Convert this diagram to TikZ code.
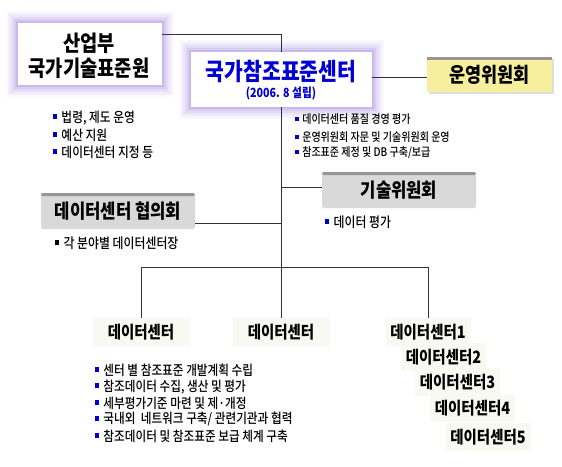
\documentclass[tikz,border=0pt]{standalone}
\usepackage{fontspec}
\usepackage{xcolor}
\setmainfont{Noto Sans CJK KR}[FakeStretch=0.85]
\newfontfamily\medfont{Noto Sans CJK KR Medium}[FakeStretch=0.85]
\usetikzlibrary{positioning,shadows}

\definecolor{glow}{RGB}{170,145,225}
\definecolor{kblue}{RGB}{0,0,210}
\definecolor{ylw}{RGB}{246,240,158}
\definecolor{gbox}{RGB}{217,217,217}
\definecolor{gtop}{RGB}{150,150,150}
\definecolor{pale}{RGB}{249,249,244}

\newcommand{\bb}{\textcolor{kblue}{\rule[0.22em]{0.3em}{0.36em}}\hspace{0.3em}}
\newcommand{\kb}{\textcolor{black}{\rule[0.22em]{0.3em}{0.36em}}\hspace{0.3em}}

\tikzset{
  glowbox/.style={fill=white, inner sep=0,
    preaction={draw=glow, line width=24pt, opacity=0.06, rounded corners=12pt},
    preaction={draw=glow, line width=20pt, opacity=0.08, rounded corners=10pt},
    preaction={draw=glow, line width=16pt, opacity=0.10, rounded corners=8pt},
    preaction={draw=glow, line width=12pt, opacity=0.14, rounded corners=6pt},
    preaction={draw=glow, line width=8pt, opacity=0.2, rounded corners=4pt},
    preaction={draw=glow, line width=4pt, opacity=0.3, rounded corners=2pt}},
  graybox/.style={fill=gbox, inner sep=0, rounded corners=2pt,
    minimum width=154, minimum height=36, font=\fontsize{19.6}{21}\selectfont\bfseries,
    path picture={\fill[gtop] (path picture bounding box.north west)
      rectangle ([yshift=-3pt]path picture bounding box.north east);}},
  yellowbox/.style={fill=ylw, inner sep=0,
    drop shadow={shadow xshift=2pt, shadow yshift=-2pt, opacity=0.25},
    path picture={\fill[gtop] (path picture bounding box.north west)
      rectangle ([yshift=-2.5pt]path picture bounding box.north east);}},
  ttl/.style={inner sep=0, font=\fontsize{#1}{#1}\selectfont\bfseries},
  lst/.style={anchor=west, inner sep=0, font=\fontsize{#1}{15}\medfont},
  dcbox/.style={fill=pale, inner sep=0, minimum height=28, font=\fontsize{17}{19}\selectfont\bfseries},
  link/.style={draw=black!80, line width=0.9pt}
}

\begin{document}
\begin{tikzpicture}[x=1pt,y=-1pt]
\useasboundingbox (0,0) rectangle (562,466);

% top boxes
\node[glowbox, minimum width=144, minimum height=62] (mote) at (90,54) {};
\node[ttl=22] (moteA) at (89,43) {산업부};
\node[ttl=22] (moteB) at (89,68) {국가기술표준원};

\node[glowbox, minimum width=181, minimum height=55] (kric) at (281,79.5) {};
\node[ttl=24, text=kblue] (kricA) at (281,72) {국가참조표준센터};
\node[ttl=12.6, text=kblue] (kricB) at (281,93.5) {(2006. 8 설립)};

\node[yellowbox, minimum width=125, minimum height=35, ttl=20.5] (ops) at (489.5,74.5) {운영위원회};

\node[graybox] (tech) at (399,190) {기술위원회};
\node[graybox] (council) at (118,211) {데이터센터 협의회};

% bullet lists
\node[lst=13.8] (law1) at (53,118) {\bb 법령, 제도 운영};
\node[lst=13.8] (law2) at (53,135) {\bb 예산 지원};
\node[lst=13.8] (law3) at (53,152) {\bb 데이터센터 지정 등};

\node[lst=11.8] (role1) at (295,119) {\bb 데이터센터 품질 경영 평가};
\node[lst=11.8] (role2) at (295,137) {\bb 운영위원회 자문 및 기술위원회 운영};
\node[lst=11.8] (role3) at (295,153) {\bb 참조표준 제정 및 DB 구축/보급};

\node[lst=14] (eval1) at (325,222) {\bb 데이터 평가};
\node[lst=14] (head1) at (55,243) {\kb 각 분야별 데이터센터장};

\node[lst=13.7] (task1) at (95,370) {\bb 센터 별 참조표준 개발계획 수립};
\node[lst=13.7] (task2) at (95,387) {\bb 참조데이터 수집, 생산 및 평가};
\node[lst=13.7] (task3) at (95,403) {\bb 세부평가기준 마련 및 제·개정};
\node[lst=13.7] (task4) at (95,419) {\bb 국내외~~네트워크 구축/ 관련기관과 협력};
\node[lst=13.7] (task5) at (95,436) {\bb 참조데이터 및 참조표준 보급 체계 구축};

% data centers
\node[dcbox, minimum width=97] (dcA) at (141,332) {데이터센터};
\node[dcbox, minimum width=97] (dcB) at (281,332) {데이터센터};
\node[dcbox, minimum width=85] (dc1) at (428,332) {데이터센터1};
\node[dcbox, minimum width=85] (dc2) at (443.5,357) {데이터센터2};
\node[dcbox, minimum width=85] (dc3) at (457.5,382) {데이터센터3};
\node[dcbox, minimum width=85] (dc4) at (472.5,408) {데이터센터4};
\node[dcbox, minimum width=85] (dc5) at (488,437) {데이터센터5};

% connectors
\coordinate (hub) at (281,267);
\draw[link] ([yshift=-12pt]mote.north east) -| (kric.north);
\draw[link] ([yshift=2pt]kric.east) -- ([yshift=2pt]kric.east -| ops.west);
\draw[link] (kric.south) -- (dcB.north);
\draw[link] ([yshift=3pt]tech.west) -- ([yshift=3pt]tech.west -| kric.south);
\draw[link] ([yshift=6pt]council.south east) -- ([yshift=6pt]council.south east -| kric.south);
\draw[link] (dcA.north) -- (dcA.north |- hub) -- (dc1.north |- hub) -- (dc1.north);
\end{tikzpicture}
\end{document}
